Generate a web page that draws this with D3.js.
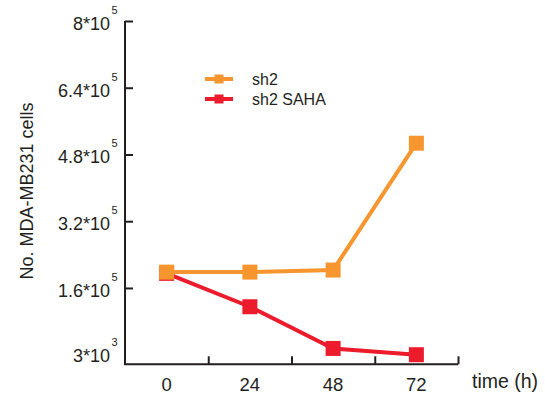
<!DOCTYPE html>
<html>
<head>
<meta charset="utf-8">
<script src="https://cdn.jsdelivr.net/npm/d3@7"></script>
<style>
  body { margin: 0; background: #fff; }
  svg { display: block; font-family: "Liberation Sans", Arial, sans-serif; }
</style>
</head>
<body>
<svg id="chart" width="545" height="395"></svg>
<script>
// time points (h)
var hours = [0, 24, 48, 72]

// cell counts
var sh2 = [198000, 198000, 203000, 507000]
var sh2Saha = [195000, 115000, 15000, 0]

var seriesNames = ["sh2", "sh2 SAHA"]
var seriesColors = ["#F7962F", "#EC1C2D"]

// y tick labels: value, mantissa, exponent
var yTickValues = [3000, 160000, 320000, 480000, 640000, 800000]
var yTickMantissa = ["3", "1.6", "3.2", "4.8", "6.4", "8"]
var yTickExponent = ["3", "5", "5", "5", "5", "5"]

// boundaries between time slots, where the x tick marks sit
var xTickMarks = [12, 36, 60, 84]

var svg = d3.select("#chart")
var axisColor = "#231F20"

var x = d3.scaleLinear().domain([-12, 84]).range([125, 458])
var y = d3.scaleLinear().domain([-23000, 800000]).range([364.3, 21])

// axes
var yAxis = svg.append("g")
  .attr("transform", "translate(125,0)")
  .call(d3.axisLeft(y).tickValues(yTickValues.slice(1)).tickSize(-8).tickFormat(""))
yAxis.select(".domain").remove()
yAxis.selectAll("line").attr("stroke", axisColor).attr("stroke-width", 2)

var xAxis = svg.append("g")
  .attr("transform", "translate(0,364.3)")
  .call(d3.axisBottom(x).tickValues(xTickMarks).tickSize(-8).tickFormat(""))
xAxis.select(".domain").remove()
xAxis.selectAll("line").attr("stroke", axisColor).attr("stroke-width", 2)

svg.append("path")
  .attr("d", "M" + x(-12) + "," + y(800000) + "V" + y(-23000) + "H" + x(84))
  .attr("fill", "none")
  .attr("stroke", axisColor)
  .attr("stroke-width", 2)

// y tick labels with superscript exponents
var yLabels = svg.append("g").selectAll("g")
  .data(yTickValues)
  .enter().append("g")
  .attr("transform", d => "translate(0," + y(d) + ")")

yLabels.append("text")
  .attr("x", 110)
  .attr("y", 9)
  .attr("text-anchor", "end")
  .attr("font-size", 18)
  .attr("fill", axisColor)
  .text((d, i) => yTickMantissa[i] + "*10")

yLabels.append("text")
  .attr("x", 111.5)
  .attr("y", -7)
  .attr("font-size", 11)
  .attr("fill", axisColor)
  .text((d, i) => yTickExponent[i])

// x tick labels
svg.append("g").selectAll("text")
  .data(hours)
  .enter().append("text")
  .attr("x", d => x(d))
  .attr("y", 391)
  .attr("text-anchor", "middle")
  .attr("font-size", 18.5)
  .attr("fill", axisColor)
  .text(d => d)

svg.append("text")
  .attr("x", 472)
  .attr("y", 388)
  .attr("font-size", 19.5)
  .attr("fill", axisColor)
  .text("time (h)")

svg.append("text")
  .attr("transform", "translate(33,191) rotate(-90)")
  .attr("text-anchor", "middle")
  .attr("font-size", 18)
  .attr("fill", axisColor)
  .text("No. MDA-MB231 cells")

// series, red first so orange sits on top
var series = [
  { name: seriesNames[1], color: seriesColors[1], values: sh2Saha },
  { name: seriesNames[0], color: seriesColors[0], values: sh2 }
]

var line = d3.line()
  .x((d, i) => x(hours[i]))
  .y(d => y(d))

series.forEach(function(s) {
  var g = svg.append("g")
  g.append("path")
    .attr("d", line(s.values))
    .attr("fill", "none")
    .attr("stroke", s.color)
    .attr("stroke-width", 4)
  g.selectAll("rect")
    .data(s.values)
    .enter().append("rect")
    .attr("x", (d, i) => x(hours[i]) - 7.5)
    .attr("y", d => y(d) - 7.5)
    .attr("width", 15)
    .attr("height", 15)
    .attr("fill", s.color)
})

// legend
var legend = svg.append("g").selectAll("g")
  .data(seriesNames)
  .enter().append("g")
  .attr("transform", (d, i) => "translate(0," + (79 + i * 20) + ")")

legend.append("line")
  .attr("x1", 205)
  .attr("x2", 233)
  .attr("stroke", (d, i) => seriesColors[i])
  .attr("stroke-width", 4)

legend.append("rect")
  .attr("x", 214.5)
  .attr("y", -4.5)
  .attr("width", 9)
  .attr("height", 9)
  .attr("fill", (d, i) => seriesColors[i])

legend.append("text")
  .attr("x", 252)
  .attr("y", 6)
  .attr("font-size", 16)
  .attr("fill", axisColor)
  .text(d => d)
</script>
</body>
</html>
